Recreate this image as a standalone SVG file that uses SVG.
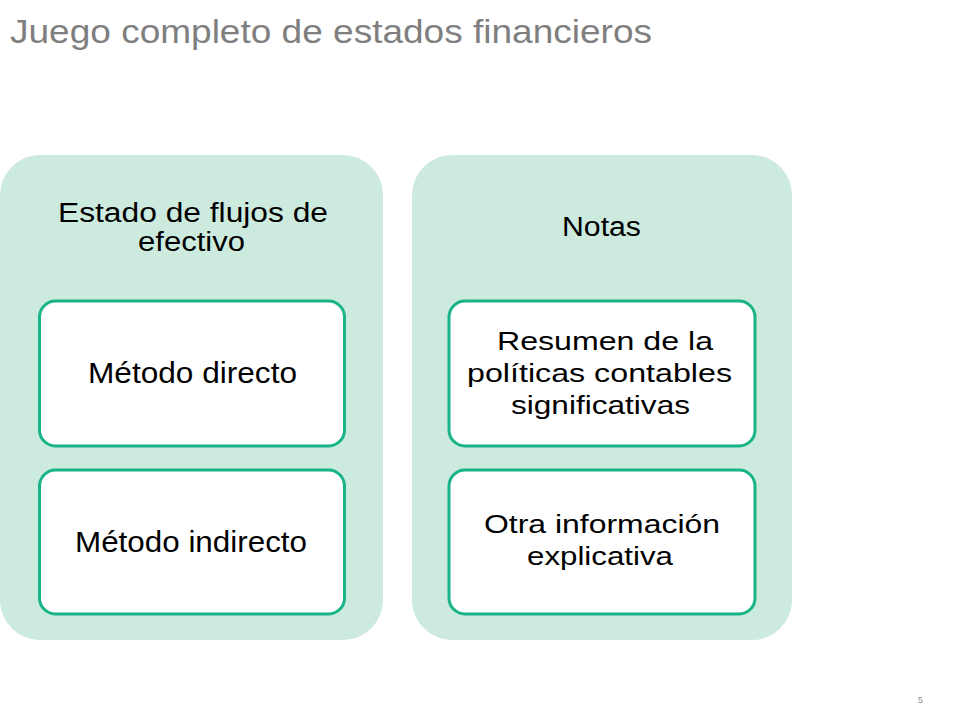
<svg xmlns="http://www.w3.org/2000/svg" width="960" height="720" viewBox="0 0 960 720">
<style>
.bg{fill:#cceadd;}
.box{fill:#ffffff;stroke:#18b386;stroke-width:3;}
text{font-family:"Liberation Sans",Arial,sans-serif;fill:#000000;}
.t{font-size:27px;}
.i{font-size:29px;}
.r{font-size:26px;}
</style>
<rect width="960" height="720" fill="#ffffff"/>
<text x="10" y="43" font-size="34" style="fill:#7f7f7f" textLength="642" lengthAdjust="spacingAndGlyphs">Juego completo de estados financieros</text>
<g id="estado">
<rect class="bg" x="0" y="155" width="383" height="485" rx="40"/>
<text class="t" x="58" y="222" textLength="270" lengthAdjust="spacingAndGlyphs">Estado de flujos de</text>
<text class="t" x="138" y="251" textLength="107" lengthAdjust="spacingAndGlyphs">efectivo</text>
</g>
<g id="directo">
<rect class="box" x="39.5" y="301" width="305" height="145" rx="16"/>
<text class="i" x="88" y="383" textLength="209" lengthAdjust="spacingAndGlyphs">Método directo</text>
</g>
<g id="indirecto">
<rect class="box" x="39.5" y="470" width="305" height="144" rx="16"/>
<text class="i" x="75" y="552" textLength="232" lengthAdjust="spacingAndGlyphs">Método indirecto</text>
</g>
<g id="notas">
<rect class="bg" x="412" y="155" width="380" height="485" rx="40"/>
<text class="t" x="562" y="236" textLength="79" lengthAdjust="spacingAndGlyphs">Notas</text>
</g>
<g id="resumen">
<rect class="box" x="449" y="301" width="306" height="145" rx="16"/>
<text class="r" x="497" y="350" textLength="216" lengthAdjust="spacingAndGlyphs">Resumen de la</text>
<text class="r" x="467" y="382" textLength="265" lengthAdjust="spacingAndGlyphs">políticas contables</text>
<text class="r" x="511" y="414" textLength="179" lengthAdjust="spacingAndGlyphs">significativas</text>
</g>
<g id="otra">
<rect class="box" x="449" y="470" width="306" height="144" rx="16"/>
<text class="r" x="484" y="533" textLength="236" lengthAdjust="spacingAndGlyphs">Otra información</text>
<text class="r" x="527" y="565" textLength="146" lengthAdjust="spacingAndGlyphs">explicativa</text>
</g>
<g id="connectors"></g>
<text x="918" y="703" font-size="9" style="fill:#8c8c8c">5</text>
</svg>
